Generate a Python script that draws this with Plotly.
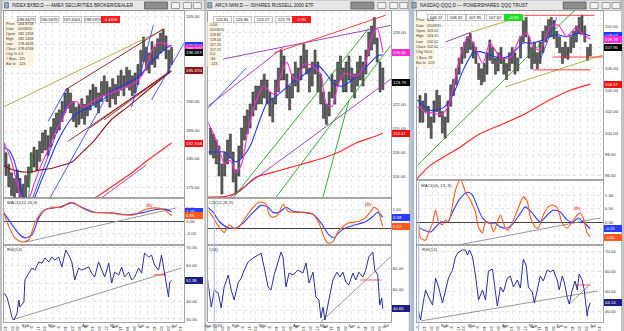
import plotly.graph_objects as go

W, H = 624, 331
FONT = "Liberation Sans"

# ---- calendar: trading-day index (Mon 12 Jan 2015 = 0), one tick per week ----
week_idx = [-5, 0, 5, 9, 14, 19, 24, 28, 33, 38, 43, 48, 53, 57, 62, 67, 72, 77,
            82, 87, 92, 96, 101, 106, 111, 116, 120, 125]
week_lbl = ["5", "12", "20", "26", "2", "9", "17", "23", "2", "9", "16", "23", "30",
            "6", "13", "20", "27", "4", "11", "18", "26", "1", "8", "15", "22", "29",
            "6", "13"]
month_idx = [14, 33, 57, 77, 96, 120]
month_lbl = ["Feb", "Mar", "Apr", "May", "Jun", "Jul"]

bar_idx = list(range(-4, 119, 2))

# ---------------- INDEX:$XBD ----------------
xbd_high = [183.0, 182.5, 181.0, 179.0, 177.5, 176.5, 178.0, 176.5, 175.5, 177.0,
            178.5, 181.0, 182.0, 181.5, 183.0, 184.5, 185.0, 184.0, 185.5, 187.0,
            188.0, 188.5, 190.0, 191.5, 192.3, 191.5, 190.0, 189.0, 189.5, 190.5,
            189.5, 191.0, 192.0, 193.0, 192.5, 191.5, 193.5, 194.5, 193.5, 192.5,
            194.0, 193.0, 194.5, 195.5, 194.5, 196.0, 195.5, 194.5, 195.0, 196.5,
            199.0, 201.3, 199.5, 198.5, 200.5, 199.5, 201.0, 202.0, 202.7, 201.5,
            199.0, 199.5]
xbd_low = [179.5, 178.5, 177.0, 175.0, 173.5, 172.5, 174.0, 172.0, 171.5, 173.0,
           175.0, 177.5, 178.5, 178.0, 179.5, 181.0, 181.5, 180.5, 182.0, 183.5,
           184.5, 185.0, 186.5, 188.0, 188.8, 188.0, 186.5, 185.5, 186.0, 187.0,
           186.0, 187.5, 188.5, 189.5, 189.0, 188.0, 190.0, 191.0, 190.0, 189.0,
           190.5, 189.5, 191.0, 192.0, 191.0, 192.5, 192.0, 191.0, 191.5, 193.0,
           194.5, 197.0, 195.5, 195.0, 196.5, 196.0, 197.5, 198.5, 199.0, 197.5,
           195.0, 196.5]
xbd_close = 198.5976
xbd_fast_idx = [-3, 0, 4, 8, 12, 16, 20, 25, 30, 35, 40, 45, 50, 55, 60, 65, 70, 75,
                80, 85, 90, 95, 99, 104, 108, 113, 118]
xbd_fast = [183.5, 182.0, 179.5, 175.5, 172.5, 172.8, 175.5, 178.8, 181.5, 184.5,
            186.8, 189.5, 190.0, 189.0, 189.7, 190.5, 191.0, 191.5, 192.0, 192.5,
            193.0, 194.0, 195.5, 199.0, 200.2, 200.2, 199.3753]
xbd_slow_idx = [-3, 2, 6, 10, 13, 16, 20, 25, 30, 35, 40, 45, 50, 55, 60, 65, 70, 75,
                85, 95, 105, 110, 114, 118]
xbd_slow = [182.0, 181.5, 179.5, 175.5, 172.5, 171.8, 173.0, 176.0, 179.0, 182.0,
            184.5, 186.5, 187.8, 188.5, 189.0, 189.8, 190.5, 191.8, 193.0, 194.5,
            197.3, 198.5, 199.3, 199.9]
xbd_ma50_idx = [-3, 5, 15, 25, 33, 40, 47, 54, 63, 75, 87, 100, 110, 118]
xbd_ma50 = [178.9, 178.0, 177.6, 178.0, 178.3, 178.8, 179.4, 181.0, 183.2, 186.8,
            189.1, 191.8, 193.8, 195.37]
xbd_ma200_idx = [50, 61, 75, 87, 100, 110, 118]
xbd_ma200 = [171.2, 172.7, 175.0, 177.0, 179.5, 181.3, 182.704]
xbd_tl_olive = [[-3, 188.9, 112, 202.6]]
xbd_tl_maroon = [[42, 192.0, 112, 202.7], [44, 183.0, 116, 195.0],
                 [60, 185.4, 116, 195.2], [70, 186.8, 116, 195.1]]
xbd_tl_blue = [[18.5, 172.7, 44.6, 190.3], [30.5, 172.7, 70.3, 190.3],
               [30, 186.5, 43, 192.2], [89.5, 189.0, 105, 203.4],
               [103.7, 190.3, 127, 200.3]]
xbd_tl_purple = [[66, 172.7, 100, 178.9]]
xbd_tl_green = [[16, 172.5, 18.5, 181.0]]
xbd_macd_idx = [-1.4, 2.1, 6.4, 11.4, 16.3, 20.6, 25.6, 32.7, 39.8, 45.5, 48.3, 54,
                61, 73, 82.4, 91.6, 98.7, 105.8, 112.9, 116.5, 118]
xbd_macd = [1.3, -0.9, -2.7, -3.4, -3.0, -0.3, 1.4, 2.2, 2.2, 3.0, 2.9, 2.1, 1.4,
            1.3, 1.0, 1.0, 1.8, 2.1, 1.8, 1.1, 0.85]
xbd_sig_idx = [-1.4, 4.3, 9.9, 13.5, 18.5, 23.4, 27.7, 37.6, 46.9, 54, 63.2, 75.3,
               87.4, 96.6, 105.8, 112.9, 118]
xbd_sig = [1.3, -0.6, -2.2, -2.7, -2.2, 0.5, 1.8, 2.2, 2.9, 2.2, 1.4, 1.3, 1.0, 1.3,
           1.8, 1.9, 1.49]
xbd_macd_tl = [[13.5, -3.4, 121.5, 2.1]]
xbd_rsi_idx = [-1.4, 0.7, 2.8, 4.3, 5.7, 7.8, 9.2, 9.9, 12.8, 13.5, 16.3, 18.5, 20.6,
               23.4, 25.6, 27.7, 30.5, 32.7, 34.8, 37.6, 39.8, 41.2, 42.6, 44.7,
               46.9, 49, 50.4, 51.8, 54, 59, 61, 63.2, 66, 70.3, 73.2, 75.3, 77.4,
               80.3, 82.4, 84.5, 87.4, 89.5, 91.6, 94.5, 96.6, 98.7, 101.6, 103.7,
               105.8, 108.7, 110.8, 112.9, 115.8, 116.5, 117.9]
xbd_rsi = [44.4, 42.2, 36, 31, 29.5, 33, 40.5, 36.7, 39.5, 51.7, 55.5, 58.3, 57.2,
           61.7, 61, 63.9, 61.7, 64.4, 62.8, 64.4, 58.9, 64.4, 68.3, 65.5, 61.7,
           51.7, 55.5, 58.3, 57.2, 58.9, 55.5, 53.3, 61.7, 53.3, 61, 50, 56, 54.4,
           58.9, 53.3, 56, 51.7, 53.3, 58.3, 55.5, 66.7, 64.4, 65.5, 60, 57.2, 65.5,
           56, 42.2, 50, 51.38]
xbd_rsi_tl = [[4.3, 29.5, 125, 58.3]]
xbd_rsi_red = [[105, 54.5, 114, 54.5]]

# ---------------- ARCX:IWM ----------------
iwm_high = [120.0, 119.5, 119.0, 118.5, 117.0, 118.0, 119.0, 119.5, 118.0, 116.5,
            118.5, 120.0, 121.0, 121.5, 122.0, 123.0, 123.5, 123.5, 124.0, 124.5,
            124.0, 123.0, 122.5, 124.0, 125.0, 126.5, 126.0, 124.5, 123.5, 124.5,
            125.5, 125.0, 126.0, 127.0, 126.5, 125.0, 125.5, 126.5, 125.5, 124.5,
            123.0, 122.0, 123.0, 124.5, 124.0, 125.5, 126.0, 125.0, 125.5, 126.0,
            125.0, 124.5, 125.5, 126.0, 125.5, 126.5, 128.0, 128.5, 129.2, 127.5,
            125.5, 125.0]
iwm_low = [117.8, 117.5, 117.0, 116.0, 114.5, 116.0, 117.0, 117.5, 115.5, 114.5,
           116.0, 117.5, 119.0, 119.5, 120.0, 121.0, 121.5, 122.0, 122.0, 122.5,
           122.0, 121.0, 120.5, 122.0, 123.0, 124.0, 124.0, 122.5, 121.5, 122.5,
           123.5, 123.0, 124.0, 125.0, 124.5, 123.0, 123.5, 124.5, 123.0, 122.0,
           120.8, 120.3, 121.0, 122.5, 122.0, 123.5, 124.0, 123.0, 123.0, 124.0,
           123.0, 122.5, 123.5, 124.0, 123.5, 124.5, 126.0, 126.5, 127.0, 125.5,
           123.0, 123.2]
iwm_close = 123.79
iwm_fast_idx = [-6, 0, 6, 10, 14, 18, 22, 26, 30, 34, 38, 42, 46, 50, 54, 58, 62, 66,
                70, 74, 78, 82, 86, 90, 94, 98, 102, 106, 110, 114, 118]
iwm_fast = [120.5, 119.0, 117.0, 117.3, 116.3, 117.0, 119.5, 121.5, 122.8, 123.5,
            123.0, 122.8, 124.5, 125.5, 124.3, 124.0, 125.3, 125.3, 125.0, 124.5,
            122.0, 121.8, 123.5, 124.5, 124.5, 124.3, 124.6, 125.5, 127.5, 128.3,
            126.30]
iwm_slow_idx = [-6, 0, 6, 10, 14, 18, 24, 30, 36, 42, 48, 54, 60, 66, 72, 78, 84, 90,
                96, 102, 108, 114, 118]
iwm_slow = [118.0, 118.0, 118.0, 117.5, 117.2, 117.5, 118.5, 120.4, 122.1, 122.6,
            123.2, 123.8, 124.25, 124.8, 125.2, 124.5, 123.6, 123.5, 124.0, 124.6,
            125.3, 126.0, 126.1]
iwm_ma200_idx = [-7, 7, 16, 28, 40, 52, 64, 76, 87, 99, 111, 118]
iwm_ma200 = [114.25, 114.3, 114.7, 115.9, 116.3, 116.7, 117.1, 117.5, 118.0, 118.75,
             119.25, 119.57]
iwm_tl_purple = [[4.9, 125.75, 125.7, 128.6], [-7, 121.7, 47.3, 126.7],
                 [7, 114.0, 125.7, 124.25]]
iwm_tl_red = [[41, 126.25, 120, 129.4]]
iwm_tl_blue = [[-7, 121.5, 21.2, 125.0]]
iwm_tl_green = [[10.6, 114.0, 108, 128.3], [42.4, 114.25, 125, 127.1],
                [75.6, 114.25, 94, 122.3]]
iwm_macd_idx = [-7, -3.5, 0, 3.5, 5.6, 9.2, 12.7, 16.2, 21.2, 26.1, 30.4, 35.3, 37.4,
                40.3, 43.8, 47.3, 50.8, 55.1, 63.6, 68.5, 72.7, 76.3, 79.1, 82.6,
                86.2, 89.7, 93.9, 101, 105.9, 109.5, 111.6, 114.4, 116.5, 118]
iwm_macd = [1.0, 0.74, 0.3, -0.05, -0.2, 0.2, 0.0, 0.1, 0.63, 1.1, 1.37, 1.26, 0.74,
            0.58, 0.74, 1.26, 0.9, 0.84, 0.84, 0.74, 0.3, -0.42, -0.74, -0.68, -0.16,
            0.1, 0.3, 0.37, 0.58, 0.9, 1.1, 1.0, 0.47, 0.12]
iwm_sig_idx = [-7, -2.1, 2.1, 8.5, 14.1, 19.1, 26.1, 31.8, 36.7, 40.3, 44.5, 49.4,
               54.4, 61.4, 68.5, 74.2, 79.8, 83.3, 86.9, 91.8, 98.9, 105.9, 110.9,
               114.4, 118]
iwm_sig = [1.16, 0.84, 0.37, 0.05, 0.05, 0.3, 0.84, 1.2, 1.1, 0.84, 0.84, 1.1, 0.9,
           0.84, 0.74, 0.3, -0.32, -0.47, -0.2, 0.05, 0.2, 0.37, 0.63, 0.84, 0.58]
iwm_rsi_idx = [-7, -4.9, -3.5, -1.4, 1.4, 3.5, 5.6, 8.5, 10.6, 12.7, 15.5, 17.7, 19.8,
               22.6, 26.1, 29.7, 31.8, 33.9, 36.7, 38.8, 41, 43.8, 45.9, 47.3, 49.4,
               51.6, 54.4, 57.9, 61.4, 63.6, 65.7, 68.5, 70.6, 72.7, 74.2, 75.6, 77,
               79.8, 82.6, 85.5, 87.6, 89.7, 91.8, 93.9, 96.8, 98.9, 101, 103.8,
               105.9, 108, 110.9, 112.3, 114.4, 115.8, 117.2, 118]
iwm_rsi = [59, 49.5, 41.4, 49.5, 48, 41, 51, 56.7, 49.5, 44.8, 52.9, 55.2, 59, 62.9,
           64.8, 66.2, 67.1, 60.5, 51, 49.5, 56.7, 62.9, 67.6, 65.2, 51, 57.6, 56.7,
           59, 57.6, 62.4, 52.9, 58, 46.2, 44.8, 36.2, 41.4, 35.2, 44.8, 54.3, 58,
           55.7, 58, 53.3, 51.9, 57.6, 54.3, 58, 55.7, 59, 65.2, 67.6, 59, 56.7,
           42.4, 45.7, 40.6]
iwm_rsi_tl = [[74, 34.3, 125, 66.2]]
iwm_rsi_red = [[102, 54.3, 117, 54.3]]

# ---------------- NASDAQ:QQQ ----------------
qqq_high = [103.5, 103.0, 103.7, 102.5, 101.5, 103.0, 104.0, 103.5, 102.0, 101.5,
            103.0, 104.5, 105.0, 106.0, 107.0, 108.0, 108.5, 109.0, 109.3, 108.5,
            108.0, 106.5, 106.0, 106.5, 107.5, 108.7, 108.0, 107.0, 107.5, 108.0,
            107.0, 106.5, 107.5, 108.0, 107.5, 107.0, 109.0, 110.5, 110.8, 109.0,
            108.0, 108.5, 107.5, 108.5, 109.5, 110.0, 110.6, 110.8, 110.5, 109.5,
            109.0, 108.0, 108.5, 108.0, 109.0, 109.5, 110.0, 110.8, 111.0, 110.0,
            108.0, 108.3]
qqq_low = [101.0, 101.0, 102.0, 100.5, 99.5, 101.0, 102.0, 101.5, 100.0, 99.5,
           101.0, 102.5, 103.5, 104.5, 105.5, 106.5, 107.0, 107.5, 107.8, 107.0,
           106.5, 105.0, 104.5, 104.8, 105.5, 106.8, 106.5, 105.5, 105.8, 106.5,
           105.5, 105.0, 105.8, 106.5, 105.5, 105.8, 107.0, 108.5, 109.0, 107.0,
           106.0, 106.5, 106.0, 106.5, 107.5, 108.5, 109.0, 109.0, 108.8, 108.0,
           107.5, 106.5, 107.0, 106.9, 107.5, 108.0, 108.5, 109.3, 109.2, 108.5,
           106.8, 107.2]
qqq_close = 107.95
qqq_fast_idx = [-6, -4, 0, 4, 11, 16, 23, 30, 34, 41, 46, 54, 61, 68, 73, 77, 82, 89,
                95, 101, 108, 112, 118]
qqq_fast = [102.4, 102.4, 101.9, 101.9, 101.7, 102.4, 106.2, 109.0, 108.4, 106.5,
            108.4, 107.0, 107.1, 109.0, 109.3, 108.0, 107.8, 109.9, 110.1, 109.0,
            109.9, 109.3, 108.76]
qqq_slow_idx = [-6, 4, 13, 20, 27, 34, 39, 46, 54, 61, 70, 77, 84, 94, 101, 108, 115,
                118]
qqq_slow = [103.1, 102.1, 102.4, 103.7, 105.9, 107.5, 107.6, 107.3, 107.0, 107.3,
            108.4, 108.4, 108.7, 109.2, 109.0, 109.3, 109.2, 109.07]
qqq_ma200_idx = [-6.4, 3.6, 25, 37, 53.6, 70, 89, 103.6, 118]
qqq_ma200 = [95.7, 97.0, 98.7, 99.8, 100.75, 101.7, 103.1, 104.0, 104.57]
qqq_tl_green = [[-5.7, 97.0, 110.7, 112.0]]
qqq_tl_olive = [[32, 109.4, 71.4, 111.0], [57, 104.3, 127, 107.3]]
qqq_tl_purple = [[14.3, 108.5, 32, 109.4]]
qqq_tl_red = [[71, 111.0, 121, 111.0], [91, 107.1, 127, 107.1], [77, 105.9, 118, 105.9]]
qqq_tl_blue = [[82, 106.8, 94, 110.8]]
qqq_macd_idx = [-5, -3.6, 0, 2.1, 5, 7.1, 9.3, 12.1, 14.3, 16.4, 19.3, 21.4, 25, 28.6,
                32.1, 35.7, 37.9, 40.7, 42.9, 46.4, 48.6, 51.4, 53.6, 57.1, 59.3,
                62.9, 66.4, 70, 72.9, 75, 78.6, 80.7, 84.3, 87.9, 90.7, 94.3, 97.9,
                101.4, 105, 108.6, 110.7, 112.9, 115.7, 117.9]
qqq_macd = [-0.04, -0.6, -0.67, -0.4, -0.04, 0.44, 0.0, -0.1, 0.07, 0.0, 0.63, 1.18,
            1.6, 1.1, 0.81, 0.37, -0.19, -0.4, 0.0, -0.04, -0.37, 0.0, 0.26, -0.22,
            -0.3, 0.07, 0.52, 0.93, 0.74, 0.19, -0.19, -0.22, 0.26, 0.56, 0.63, 0.52,
            -0.04, -0.22, 0.0, 0.26, 0.33, 0.15, -0.4, -0.56]
qqq_sig_idx = [-5, -1.4, 3.6, 7.1, 10.7, 15.7, 20, 25, 30, 33.6, 37.1, 40.7, 45, 50,
               53.6, 58.6, 62.9, 67.9, 71.4, 76.4, 82.1, 87.1, 91.4, 96.4, 101.4,
               105.7, 109.3, 112.9, 117.9]
qqq_sig = [-0.19, -0.3, -0.37, -0.19, 0.0, 0.0, 0.44, 0.89, 1.1, 1.0, 0.56, 0.15,
           -0.04, -0.04, -0.19, -0.22, -0.04, 0.33, 0.56, 0.33, 0.0, 0.26, 0.44, 0.37,
           0.07, 0.0, 0.15, 0.0, -0.25]
qqq_macd_tl = [[23.6, -0.85, 125, 0.15]]
qqq_rsi_idx = [-5, -3.6, -1.4, 0, 2.1, 5, 7.1, 9.3, 12.1, 14.3, 16.4, 19.3, 21.4, 23.6,
               26.4, 28.6, 30, 31.4, 33.6, 35.7, 37.9, 40.7, 42.9, 45, 47.9, 50, 51.4,
               53.6, 55.7, 58.6, 60.7, 62.9, 65.7, 67.9, 70, 72.1, 73.6, 76.4, 77.9,
               80, 82.1, 84.3, 87.1, 89.3, 91.4, 94.3, 95.7, 97.9, 99.3, 101.4, 102.9,
               105, 107.1, 108.6, 110, 112.1, 113.6, 115.7, 116.4, 117.9]
qqq_rsi = [39.5, 35.5, 45.5, 50.5, 47, 43, 56.5, 52, 44, 50.5, 56.5, 60.5, 67, 69.5,
           70.5, 70.5, 68, 70.5, 67, 58, 45.5, 50.5, 45.5, 60, 61, 49.5, 42.5, 52,
           49.5, 56.5, 57.5, 52, 55.5, 51.5, 66, 62.5, 52, 49.5, 44, 50.5, 57.5, 55,
           60.5, 59.5, 60.5, 55.5, 50.5, 57.5, 54.5, 47, 43.5, 50.5, 55, 50.5, 58.5,
           55.5, 50.5, 37.5, 41, 44.14]
qqq_rsi_tl = [[-3.6, 35, 123, 50], [103, 43.5, 118, 53.5]]
qqq_rsi_red = [[107, 53, 118, 53]]

# ---------------- colours ----------------
PINK, BLUE, MAROON, RED = "#ff2bd0", "#2236f0", "#8a1616", "#ff2a2a"
OLIVE, PURPLE, GREEN, TBLUE = "#aca43a", "#9232b4", "#1fa01f", "#3342ff"
ORANGE, SIGBLUE, NAVY, GREYTL = "#ff5a1e", "#2a3cff", "#1c1c84", "#8c8c8c"
RSICOL, SALMON, MAGENTA = "#2d2d9c", "#ff5a5a", "#ff40ff"

# pane geometry in pixels; "yt" = gridline levels, "yl" = levels that get a label
PANELS = [
    dict(x0=2, x1=183, xr=[-1.4, 127.1],
         rows=[(11, 198), (198, 245), (245, 322)],
         yr=[[173.07, 205.88], [-3.84, 3.68], [28.33, 71.11]],
         yt=[[175, 180, 185, 190, 195, 200, 205], [-2, 0, 2], [30, 40, 50, 60, 70]],
         yl=[[175, 180, 185, 190, 205], [-2, 0, 2], [30, 40, 60, 70]]),
    dict(x0=207, x1=390, xr=[-5.6, 123.6],
         rows=[(11, 198), (198, 245), (245, 322)],
         yr=[[114.17, 129.75], [-0.84, 1.58], [34.29, 70.95]],
         yt=[[116, 118, 120, 122, 124, 126, 128], [0, 1], [40, 50, 60]],
         yl=[[116, 118, 120, 122, 128], [1], [50, 60]]),
    dict(x0=416, x1=603, xr=[-6.4, 127.1],
         rows=[(11, 180), (180, 245), (245, 322)],
         yr=[[95.61, 111.40], [-0.852, 1.556], [34.5, 73.0]],
         yt=[[96, 98, 100, 102, 104, 106, 108, 110], [0, 0.5, 1.0], [40, 50, 60, 70]],
         yl=[[96, 98, 100, 102, 104, 106, 110], [0, 0.5, 1.0], [40, 50, 60, 70]]),
]


def px(x):
    return x / W


def py(y):
    return 1 - y / H


def axn(n):
    return ("x" if n == 1 else f"x{n}"), ("y" if n == 1 else f"y{n}")


def segs(lines):
    xs, ys = [], []
    for x0, y0, x1, y1 in lines:
        xs += [x0, x1, None]
        ys += [y0, y1, None]
    return xs, ys


fig = go.Figure()
ann = []
shapes = []


def add_line(n, xs, ys, color, width=1.0, smooth=False):
    xa, ya = axn(n)
    ln = dict(color=color, width=width)
    if smooth:
        ln.update(shape="spline", smoothing=0.7)
    fig.add_trace(go.Scatter(x=xs, y=ys, mode="lines", line=ln, xaxis=xa, yaxis=ya,
                             hoverinfo="skip", connectgaps=False))


def add_bars(n, highs, lows):
    xa, ya = axn(n)
    fig.add_trace(go.Bar(x=bar_idx, y=[h - l for h, l in zip(highs, lows)], base=lows,
                         width=1.45, xaxis=xa, yaxis=ya, hoverinfo="skip",
                         marker=dict(color="#626262", line=dict(color="#141414", width=0.5))))


def text(x, y, s, size=4.6, color="#222", xanchor="left", **kw):
    ann.append(dict(x=px(x), y=py(y), xref="paper", yref="paper", text=s,
                    xanchor=xanchor, yanchor="middle", showarrow=False,
                    font=dict(size=size, color=color, family=FONT), **kw))


def tag(n, val, s, bg, fg="white"):
    p = (n - 1) // 3
    ya = axn(n)[1]
    ann.append(dict(x=px(PANELS[p]["x1"] + 1), xref="paper", y=val, yref=ya, text=s,
                    xanchor="left", yanchor="middle", showarrow=False, bgcolor=bg,
                    bordercolor=bg, borderpad=0.1, width=16, align="left",
                    font=dict(size=4.2, color=fg, family=FONT)))


def rect(x0, y0, x1, y1, fill, edge=None, layer="below"):
    shapes.append(dict(type="rect", xref="paper", yref="paper", x0=px(x0), x1=px(x1),
                       y0=py(y1), y1=py(y0), fillcolor=fill, layer=layer,
                       line=dict(width=0.8 if edge else 0, color=edge or fill)))


def hline(n, val, color, width=1.0):
    xa, ya = axn(n)
    shapes.append(dict(type="line", xref=f"{xa} domain", yref=ya, x0=0, x1=1,
                       y0=val, y1=val, line=dict(color=color, width=width), layer="below"))


# ---------------- axes ----------------
axes = {}
for p, P in enumerate(PANELS):
    for r in range(3):
        n = p * 3 + r + 1
        xa, ya = axn(n)
        top, bot = P["rows"][r]
        axes["xaxis" if n == 1 else f"xaxis{n}"] = dict(
            domain=[px(P["x0"]), px(P["x1"])], range=P["xr"], anchor=ya,
            tickvals=week_idx, ticktext=week_lbl, showticklabels=(r == 2), ticks="",
            tickfont=dict(size=4.4, color="#333", family=FONT), showgrid=True,
            gridcolor="#d6d6d6", griddash="dot", gridwidth=0.6, zeroline=False,
            showline=True, mirror=True, linecolor="#8c8c8c", linewidth=0.8,
            fixedrange=True)
        axes["yaxis" if n == 1 else f"yaxis{n}"] = dict(
            domain=[py(bot), py(top)], range=P["yr"][r], anchor=xa, side="right",
            tickvals=P["yt"][r],
            ticktext=[f"{v:.2f}" if v in P["yl"][r] else "" for v in P["yt"][r]],
            ticks="", tickfont=dict(size=4.4, color="#333", family=FONT), showgrid=True,
            gridcolor="#d6d6d6", griddash="dot", gridwidth=0.6,
            zeroline=(r == 1), zerolinecolor="#303030", zerolinewidth=0.9,
            showline=True, mirror=True, linecolor="#8c8c8c", linewidth=0.8,
            fixedrange=True)

# ---------------- panel data ----------------
DATA = [
    dict(high=xbd_high, low=xbd_low, close=xbd_close, dec=4,
         fast=(xbd_fast_idx, xbd_fast), slow=(xbd_slow_idx, xbd_slow),
         ma50=(xbd_ma50_idx, xbd_ma50), ma200=(xbd_ma200_idx, xbd_ma200),
         tl=[(xbd_tl_olive, OLIVE), (xbd_tl_maroon, MAROON), (xbd_tl_blue, TBLUE),
             (xbd_tl_purple, PURPLE), (xbd_tl_green, GREEN)],
         macd=(xbd_macd_idx, xbd_macd), sig=(xbd_sig_idx, xbd_sig), macd_tl=xbd_macd_tl,
         rsi=(xbd_rsi_idx, xbd_rsi), rsi_tl=xbd_rsi_tl, rsi_red=xbd_rsi_red,
         slow_tag=True, rsi_bands=[70, 30]),
    dict(high=iwm_high, low=iwm_low, close=iwm_close, dec=2,
         fast=(iwm_fast_idx, iwm_fast), slow=(iwm_slow_idx, iwm_slow),
         ma200=(iwm_ma200_idx, iwm_ma200),
         tl=[(iwm_tl_purple, PURPLE), (iwm_tl_red, RED), (iwm_tl_blue, TBLUE),
             (iwm_tl_green, GREEN)],
         macd=(iwm_macd_idx, iwm_macd), sig=(iwm_sig_idx, iwm_sig), macd_tl=[],
         rsi=(iwm_rsi_idx, iwm_rsi), rsi_tl=iwm_rsi_tl, rsi_red=iwm_rsi_red,
         slow_tag=False, rsi_bands=[]),
    dict(high=qqq_high, low=qqq_low, close=qqq_close, dec=2,
         fast=(qqq_fast_idx, qqq_fast), slow=(qqq_slow_idx, qqq_slow),
         ma200=(qqq_ma200_idx, qqq_ma200),
         tl=[(qqq_tl_green, GREEN), (qqq_tl_olive, OLIVE), (qqq_tl_purple, PURPLE),
             (qqq_tl_red, RED), (qqq_tl_blue, TBLUE)],
         macd=(qqq_macd_idx, qqq_macd), sig=(qqq_sig_idx, qqq_sig), macd_tl=qqq_macd_tl,
         rsi=(qqq_rsi_idx, qqq_rsi), rsi_tl=qqq_rsi_tl, rsi_red=qqq_rsi_red,
         slow_tag=True, rsi_bands=[70]),
]

for p, d in enumerate(DATA):
    n = p * 3 + 1
    dec = d["dec"]
    # price pane
    add_bars(n, d["high"], d["low"])
    add_line(n, *d["ma200"], RED, 1.2, True)
    if "ma50" in d:
        add_line(n, *d["ma50"], MAROON, 1.1, True)
    for lines, color in d["tl"]:
        add_line(n, *segs(lines), color, 0.9)
    add_line(n, *d["slow"], BLUE, 1.1, True)
    add_line(n, *d["fast"], PINK, 1.1, True)
    if d["slow_tag"]:
        tag(n, d["slow"][1][-1], f"{d['slow'][1][-1]:.{dec}f}", BLUE)
    tag(n, d["fast"][1][-1], f"{d['fast'][1][-1]:.{dec}f}", PINK)
    tag(n, d["close"], f"{d['close']:.{dec}f}", "#000000")
    if "ma50" in d:
        tag(n, d["ma50"][1][-1], f"{d['ma50'][1][-1]:.{dec}f}", MAROON)
    tag(n, d["ma200"][1][-1], f"{d['ma200'][1][-1]:.{dec}f}", "#ee1111")
    # MACD pane
    if d["macd_tl"]:
        add_line(n + 1, *segs(d["macd_tl"]), GREYTL, 0.9)
    add_line(n + 1, *d["sig"], SIGBLUE, 1.1, True)
    add_line(n + 1, *d["macd"], ORANGE, 1.1, True)
    tag(n + 1, d["sig"][1][-1], f"{d['sig'][1][-1]:.2f}", SIGBLUE)
    tag(n + 1, d["macd"][1][-1], f"{d['macd'][1][-1]:.2f}", ORANGE)
    # RSI pane
    for b in d["rsi_bands"]:
        hline(n + 2, b, MAGENTA, 1.2)
    add_line(n + 2, *segs(d["rsi_tl"]), GREYTL, 0.9)
    add_line(n + 2, *segs(d["rsi_red"]), SALMON, 1.1)
    add_line(n + 2, *d["rsi"], RSICOL, 1.0)
    tag(n + 2, d["rsi"][1][-1], f"{d['rsi'][1][-1]:.2f}", NAVY)

# "div" marks in the MACD panes
for n, xi, v in [(2, 102.3, 2.56), (5, 108, 1.26), (8, 108.6, 0.52)]:
    ann.append(dict(x=xi, y=v, xref=axn(n)[0], yref=axn(n)[1], text="div",
                    showarrow=False, font=dict(size=5, color="#ee1111", family=FONT)))

# month names under the date axis
for p in range(3):
    xa = axn(p * 3 + 3)[0]
    for mi, ml in zip(month_idx, month_lbl):
        ann.append(dict(x=mi, y=py(329.5), xref=xa, yref="paper", text=ml,
                        showarrow=False, font=dict(size=4.4, color="#333", family=FONT)))
ann.append(dict(x=-2, y=py(329.5), xref="x6", yref="paper", text="Jan 2015",
                showarrow=False, font=dict(size=4.4, color="#333", family=FONT)))

# ---------------- window chrome ----------------
for x0, x1 in [(0, 203), (205, 408), (411, 621)]:
    rect(x0, 10, x1, 331, "#ffffff")
    rect(x0, 0, x1, 10.5, "#e6e6e6", "#a8a8a8")
rect(410.5, 0, 413.5, 331, "#a9bedb", layer="above")
shapes.append(dict(type="line", xref="paper", yref="paper", x0=px(213), x1=px(213),
                   y0=py(331), y1=py(198), line=dict(color="#b4c6e6", width=1.2),
                   layer="above"))
shapes.append(dict(type="line", xref="paper", yref="paper", x0=px(418), x1=px(418),
                   y0=py(331), y1=py(180), line=dict(color="#b4c6e6", width=1.2),
                   layer="above"))

# title bars with toolbar buttons
titles = [(8, "INDEX:$XBD,D \u2014 AMEX SECURITIES BROKER/DEALER"),
          (212, "ARCX:IWM,D \u2014 ISHARES RUSSELL 2000 ETF"),
          (417, "NASDAQ:QQQ,D \u2014 POWERSHARES QQQ TRUST")]
for x, s in titles:
    rect(x - 5.5, 2.5, x - 1.5, 8, "#9aa8c0", "#607090", layer="above")
    text(x, 5.3, s, size=4.6, color="#1a1a1a")
for bx in [(143, 166, 170, 178, 182, 190, 192, 200),
           (350, 373, 377, 385, 389, 397, 399, 407),
           (563, 586, 590, 598, 602, 610, 612, 620)]:
    rect(bx[0], 2, bx[1], 9, "#8e8e8e", "#5a5a5a", layer="above")
    for k in range(2, 8, 2):
        rect(bx[k], 2.5, bx[k + 1], 8.5, "#f2f2f2", "#8a8a8a", layer="above")

# OHLC read-out row at the top of each price pane
row_vals = [
    (15.5, [15, 38, 61, 82], ["196.6679", "196.5676", "197.4001", "198.5976"], 99, "-0.4458", "#ff1a1a"),
    (15.5, [221, 241, 262, 283], ["124.81", "124.96", "123.17", "123.79"], 300, "-0.90", "#ff1a1a"),
    (14.0, [445, 465, 485, 505], ["108.22", "108.32", "107.95", "107.62"], 523, "+0.85", "#22dd22"),
]
for ry, xs, vals, cx, chg, cbg in row_vals:
    for x, v in zip(xs, vals):
        ann.append(dict(x=px(x), y=py(ry), xref="paper", yref="paper", text=v,
                        showarrow=False, bgcolor="#fbfbfb", bordercolor="#a0a0a0",
                        borderwidth=0.6, borderpad=0.2, width=17,
                        font=dict(size=4.1, color="#222", family=FONT)))
    ann.append(dict(x=px(cx), y=py(ry), xref="paper", yref="paper", text=chg,
                    showarrow=False, bgcolor=cbg, bordercolor=cbg, borderpad=0.2,
                    width=17, font=dict(size=4.1, color="#ffffff", family=FONT)))

# cursor read-out boxes
info_lbl = ["Price", "Date", "Open", "High", "Low", "Close", "Chg %", "# Bars", "Bar Ix"]
xbd_info = ["204.8718", "01/09/15", "182.1458", "182.1458", "178.4618", "178.6709",
            "0.3", "-115", "-123"]
iwm_info = ["0.00", "01/09/15", "118.81", "119.04", "117.31", "117.57", "0.0", "-84",
            "-123"]
qqq_info = ["0.00", "01/09/15", "103.62", "103.65", "102.62", "102.62", "0.0", "-29",
            "-123"]
rect(2, 21, 32, 66.5, "#fcf4df", layer="above")
rect(206, 22, 219, 66.5, "#fcf4df", layer="above")
rect(413.5, 17.5, 434, 66.5, "#fcf4df", layer="above")
for i in range(9):
    text(2.5, 24 + 5 * i, info_lbl[i], size=3.7, color="#333")
    text(14.5, 24 + 5 * i, xbd_info[i], size=3.7, color="#333")
    text(206.5, 25 + 4.9 * i, iwm_info[i], size=3.7, color="#333")
    text(413.8, 20.5 + 5.3 * i, info_lbl[i], size=3.7, color="#333")
    text(424, 20.5 + 5.3 * i, qqq_info[i], size=3.7, color="#333")

# indicator captions
text(3, 202, "MACD(12,26,9)", size=4.4, color="#333")
text(206, 202, "CD(12,26,9)", size=4.4, color="#333")
text(418, 185, "MACD(6, 13, 9)", size=4.4, color="#333")
text(3, 249.5, "RSI(14)", size=4.4, color="#333")
text(206, 249.5, "I(14)", size=4.4, color="#333")
text(419, 249.5, "RSI(14)", size=4.4, color="#333")

fig.update_layout(
    width=W, height=H, margin=dict(l=0, r=0, t=0, b=0, pad=0),
    paper_bgcolor="#c2c2c2", plot_bgcolor="#ffffff", showlegend=False,
    font=dict(family=FONT, size=5, color="#222"), annotations=ann, shapes=shapes,
    **axes)

fig.write_html("out.html", config={"displayModeBar": False, "staticPlot": True})
